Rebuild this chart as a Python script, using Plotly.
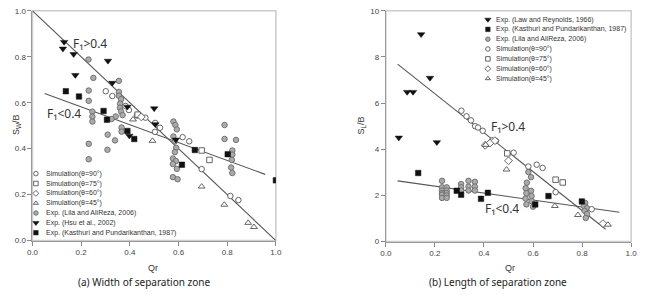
import plotly.graph_objects as go

W, H = 646, 295

# ---------------- Left panel data (Width of separation zone) ----------------
sim90_a_x = [0.301, 0.328, 0.382, 0.396, 0.429, 0.464, 0.504, 0.524, 0.503, 0.617, 0.644, 0.695, 0.813, 0.846]
sim90_a_y = [0.650, 0.629, 0.586, 0.568, 0.544, 0.535, 0.512, 0.491, 0.473, 0.450, 0.432, 0.311, 0.194, 0.176]
sim75_a_x = [0.432, 0.695, 0.727]
sim75_a_y = [0.548, 0.392, 0.351]
sim60_a_x = [0.447]
sim60_a_y = [0.538]
sim45_a_x = [0.413, 0.493, 0.695, 0.788, 0.886, 0.910]
sim45_a_y = [0.527, 0.434, 0.235, 0.156, 0.077, 0.059]
lila_a_x = [0.230, 0.250, 0.355, 0.231, 0.231, 0.246, 0.246, 0.246, 0.231, 0.231, 0.308, 0.309,
            0.339, 0.366, 0.366, 0.355, 0.355, 0.364, 0.360, 0.359, 0.364, 0.370, 0.342, 0.325,
            0.579, 0.587, 0.593, 0.579, 0.585, 0.590, 0.585, 0.577, 0.589, 0.577, 0.593, 0.577, 0.596,
            0.789, 0.789, 0.836, 0.821, 0.821, 0.819, 0.816, 0.821]
lila_a_y = [0.788, 0.708, 0.695, 0.653, 0.608, 0.561, 0.539, 0.518, 0.421, 0.354, 0.395, 0.461,
            0.436, 0.492, 0.474, 0.647, 0.630, 0.615, 0.596, 0.578, 0.562, 0.546, 0.540, 0.529,
            0.518, 0.503, 0.484, 0.453, 0.432, 0.404, 0.385, 0.357, 0.346, 0.333, 0.312, 0.276, 0.267,
            0.503, 0.442, 0.438, 0.392, 0.374, 0.351, 0.318, 0.294]
hsu_x = [0.125, 0.130, 0.169, 0.176, 0.310, 0.328, 0.390, 0.500, 0.505, 0.398, 0.589]
hsu_y = [0.835, 0.864, 0.811, 0.720, 0.782, 0.686, 0.582, 0.575, 0.506, 0.456, 0.439]
kast_a_x = [0.137, 0.191, 0.292, 0.306, 0.390, 0.418, 0.614, 0.667, 0.802, 1.000]
kast_a_y = [0.650, 0.627, 0.564, 0.526, 0.477, 0.442, 0.330, 0.394, 0.376, 0.262]
fit_a_hi_x = [0.0, 1.0]
fit_a_hi_y = [1.0, 0.0]
fit_a_lo_x = [0.05, 0.956]
fit_a_lo_y = [0.640, 0.288]

# ---------------- Right panel data (Length of separation zone) ----------------
law_x = [0.053, 0.087, 0.111, 0.144, 0.180, 0.208]
law_y = [4.50, 6.48, 6.48, 8.98, 7.09, 4.30]
kast_b_x = [0.132, 0.289, 0.307, 0.388, 0.416, 0.609, 0.663, 0.799]
kast_b_y = [2.97, 2.20, 2.03, 1.85, 2.11, 1.61, 1.97, 1.74]
lila_b_x = [0.229, 0.229, 0.229, 0.229, 0.229, 0.229, 0.248, 0.248, 0.248, 0.248, 0.248,
            0.307, 0.307, 0.307, 0.337, 0.337, 0.337, 0.363, 0.363, 0.363,
            0.581, 0.592, 0.575, 0.570, 0.592, 0.573, 0.594, 0.569, 0.594, 0.573, 0.600,
            0.813, 0.807, 0.820, 0.810, 0.820, 0.815]
lila_b_y = [2.63, 2.35, 2.21, 2.10, 2.03, 1.89, 2.35, 2.21, 2.10, 2.00, 1.89,
            2.49, 2.35, 2.21, 2.63, 2.38, 2.21, 2.59, 2.38, 2.21,
            3.01, 2.79, 2.55, 2.31, 2.20, 2.09, 1.97, 1.86, 1.75, 1.61, 1.51,
            1.67, 1.54, 1.44, 1.33, 1.19, 1.02]
sim90_b_x = [0.308, 0.329, 0.347, 0.364, 0.376, 0.395, 0.433, 0.449, 0.521, 0.581, 0.615, 0.639, 0.692, 0.839]
sim90_b_y = [5.67, 5.43, 5.25, 5.00, 4.94, 4.80, 4.38, 4.36, 3.85, 3.25, 3.33, 3.19, 2.14, 1.40]
sim75_b_x = [0.495, 0.692, 0.721]
sim75_b_y = [3.82, 2.68, 2.56]
sim60_b_x = [0.405, 0.425, 0.445, 0.500, 0.885]
sim60_b_y = [4.17, 4.27, 4.37, 3.50, 0.78]
sim45_b_x = [0.407, 0.492, 0.689, 0.783, 0.905]
sim45_b_y = [4.19, 3.12, 1.54, 1.15, 0.73]
fit_b_hi_x = [0.048, 0.896]
fit_b_hi_y = [7.69, 0.53]
fit_b_lo_x = [0.048, 0.952]
fit_b_lo_y = [2.63, 1.27]

x_ticks = [0.0, 0.2, 0.4, 0.6, 0.8, 1.0]
ya_ticks = [0.0, 0.2, 0.4, 0.6, 0.8, 1.0]
yb_ticks = [0, 2, 4, 6, 8, 10]

legend_a = ["Simulation(θ=90°)", "Simulation(θ=75°)", "Simulation(θ=60°)", "Simulation(θ=45°)",
            "Exp. (Lila and AliReza, 2006)", "Exp. (Hsu et al., 2002)",
            "Exp. (Kasthuri and Pundarikanthan, 1987)"]
legend_b = ["Exp. (Law and Reynolds, 1966)", "Exp. (Kasthuri and Pundarikanthan, 1987)",
            "Exp. (Lila and AliReza, 2006)", "Simulation(θ=90°)", "Simulation(θ=75°)",
            "Simulation(θ=60°)", "Simulation(θ=45°)"]

# ---------------- styles ----------------
EDGE = "#555555"
STY = {
    "sim90": dict(symbol="circle", color="white", line=dict(color=EDGE, width=0.9)),
    "sim75": dict(symbol="square", color="white", line=dict(color=EDGE, width=0.9)),
    "sim60": dict(symbol="diamond", color="white", line=dict(color=EDGE, width=0.9)),
    "sim45": dict(symbol="triangle-up", color="white", line=dict(color=EDGE, width=0.9)),
    "lila": dict(symbol="circle", color="#ababab", line=dict(color="#6a6a6a", width=0.9)),
    "hsu": dict(symbol="triangle-down", color="#111111", line=dict(color="#111111", width=0.5)),
    "kast": dict(symbol="square", color="#111111", line=dict(color="#111111", width=0.5)),
}
SIZE = {"sim90": 5.5, "sim75": 5.5, "sim60": 6, "sim45": 6, "lila": 5.5, "hsu": 6.5, "kast": 5.5}

fig = go.Figure()

def pts(x, y, key, xa, ya):
    m = dict(STY[key])
    m["size"] = SIZE[key]
    fig.add_trace(go.Scatter(x=x, y=y, mode="markers", marker=m, xaxis=xa, yaxis=ya,
                             showlegend=False, hoverinfo="skip"))

def line(x, y, xa, ya):
    fig.add_trace(go.Scatter(x=x, y=y, mode="lines", line=dict(color="#555555", width=1.1),
                             xaxis=xa, yaxis=ya, showlegend=False, hoverinfo="skip"))

# left panel
line(fit_a_hi_x, fit_a_hi_y, "x", "y")
line(fit_a_lo_x, fit_a_lo_y, "x", "y")
pts(lila_a_x, lila_a_y, "lila", "x", "y")
pts(sim90_a_x, sim90_a_y, "sim90", "x", "y")
pts(sim75_a_x, sim75_a_y, "sim75", "x", "y")
pts(sim60_a_x, sim60_a_y, "sim60", "x", "y")
pts(sim45_a_x, sim45_a_y, "sim45", "x", "y")
pts(kast_a_x, kast_a_y, "kast", "x", "y")
pts(hsu_x, hsu_y, "hsu", "x", "y")

# right panel
line(fit_b_hi_x, fit_b_hi_y, "x2", "y2")
line(fit_b_lo_x, fit_b_lo_y, "x2", "y2")
pts(lila_b_x, lila_b_y, "lila", "x2", "y2")
pts(sim90_b_x, sim90_b_y, "sim90", "x2", "y2")
pts(sim75_b_x, sim75_b_y, "sim75", "x2", "y2")
pts(sim60_b_x, sim60_b_y, "sim60", "x2", "y2")
pts(sim45_b_x, sim45_b_y, "sim45", "x2", "y2")
pts(kast_b_x, kast_b_y, "kast", "x2", "y2")
pts(law_x, law_y, "hsu", "x2", "y2")

# ---------------- compact legends (pixel overlay axis) ----------------
leg_a_keys = ["sim90", "sim75", "sim60", "sim45", "lila", "hsu", "kast"]
leg_b_keys = ["hsu", "kast", "lila", "sim90", "sim75", "sim60", "sim45"]
LEG_STEP = 10.15
annotations = []

def legend_block(keys, labels, mx, tx, y0):
    for i, (k, lab) in enumerate(zip(keys, labels)):
        yy = y0 + i * LEG_STEP
        m = dict(STY[k])
        m["size"] = 4.5 if k != "hsu" else 5.5
        fig.add_trace(go.Scatter(x=[mx], y=[yy], mode="markers", marker=m, xaxis="x3", yaxis="y3",
                                 showlegend=False, hoverinfo="skip"))
        annotations.append(dict(x=tx / W, y=1 - yy / H, xref="paper", yref="paper", text=lab,
                                showarrow=False, xanchor="left", yanchor="middle",
                                font=dict(family="Liberation Sans, Arial", size=7, color="#333333")))

legend_block(leg_a_keys, legend_a, 30.5, 39, 175)
legend_block(leg_b_keys, legend_b, 491, 497, 16)

# ---------------- text ----------------
def ann(text, px, py, size, family="Liberation Sans, Arial", angle=0, color="#333333"):
    annotations.append(dict(x=px / W, y=1 - py / H, xref="paper", yref="paper", text=text,
                            showarrow=False, xanchor="center", yanchor="middle", textangle=angle,
                            font=dict(family=family, size=size, color=color)))

ann("F₁&gt;0.4", 86, 41, 12, "Noto Sans")
ann("F₁&lt;0.4", 59, 113, 12, "Noto Sans")
ann("F₁&gt;0.4", 511, 126, 12, "Noto Sans")
ann("F₁&lt;0.4", 505, 211, 12, "Noto Sans")
ann("Qr", 150, 272, 9)
ann("Qr", 514, 272, 9)
ann("S<sub>W</sub>/B", 10, 125, 9, angle=-90)
ann("S<sub>L</sub>/B", 362, 125, 9, angle=-90)
ann("(a) Width of separation zone", 141, 287, 10, "Noto Sans", color="#222222")
ann("(b) Length of separation zone", 501, 287, 10, "Noto Sans", color="#222222")

TICKFONT = dict(family="Liberation Sans, Arial", size=8, color="#444444")
def axis(domain, rng, ticks, fmt):
    return dict(domain=domain, range=rng, tickvals=ticks, tickformat=fmt, ticks="outside",
                ticklen=4, tickcolor="#888888", showline=True, linecolor="#999999", linewidth=1,
                showgrid=False, zeroline=False, tickfont=TICKFONT, fixedrange=True)

xa_dom = [27 / W, 275 / W]
xb_dom = [387 / W, 637 / W]
ya_dom = [(H - 244) / H, (H - 7) / H]
yb_dom = [(H - 245) / H, (H - 7) / H]

shapes = []
for xr, yr in (("x domain", "y domain"), ("x2 domain", "y2 domain")):
    shapes.append(dict(type="rect", xref=xr, yref=yr, x0=0, x1=1, y0=0, y1=1,
                       line=dict(color="#cccccc", width=1.5), layer="below"))

fig.update_layout(
    width=W, height=H, autosize=False,
    margin=dict(l=0, r=0, t=0, b=0),
    paper_bgcolor="white", plot_bgcolor="rgba(0,0,0,0)",
    showlegend=False,
    xaxis=dict(axis(xa_dom, [0, 1], x_ticks, ".1f"), anchor="y"),
    yaxis=dict(axis(ya_dom, [0, 1], ya_ticks, ".1f"), anchor="x"),
    xaxis2=dict(axis(xb_dom, [0, 1], x_ticks, ".1f"), anchor="y2"),
    yaxis2=dict(axis(yb_dom, [0, 10], yb_ticks, "d"), anchor="x2"),
    xaxis3=dict(domain=[0, 1], range=[0, W], visible=False, anchor="y3", fixedrange=True),
    yaxis3=dict(domain=[0, 1], range=[H, 0], visible=False, anchor="x3", fixedrange=True),
    annotations=annotations,
    shapes=shapes,
)

fig.write_html("out.html")
